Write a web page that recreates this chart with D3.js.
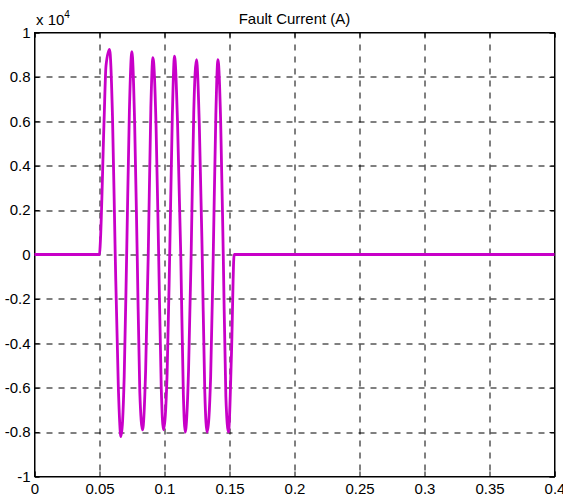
<!DOCTYPE html>
<html>
<head>
<meta charset="utf-8">
<script src="https://cdn.jsdelivr.net/npm/d3@7"></script>
<style>
  body { margin: 0; background: #fff; }
  text { font-family: Arial, "Liberation Sans", sans-serif; fill: #000; }
</style>
</head>
<body>
<div id="chart"></div>
<script>
// time (s) and current (x 10^4 A)
var times = [0, 0.0500, 0.0506, 0.0535, 0.0550, 0.0577, 0.0600, 0.0621, 0.0645, 0.0665, 0.0690,
  0.0709, 0.0730, 0.0749, 0.0770, 0.0790, 0.0810, 0.0831, 0.0855,
  0.0875, 0.0895, 0.0911, 0.0935, 0.0955, 0.0975, 0.0992, 0.1020,
  0.1040, 0.1060, 0.1077, 0.1100, 0.1125, 0.1145, 0.1159, 0.1185,
  0.1205, 0.1225, 0.1246, 0.1268, 0.1290, 0.1310, 0.1328, 0.1355,
  0.1375, 0.1395, 0.1411, 0.1432, 0.1452, 0.1472, 0.1492, 0.1515,
  0.1536, 0.1545, 0.4];
var current = [0, 0, 0.05, 0.60, 0.85, 0.924, 0.62, 0, -0.60, -0.82, -0.55,
  0, 0.65, 0.914, 0.60, 0, -0.62, -0.79, -0.52,
  0, 0.66, 0.887, 0.58, 0, -0.60, -0.79, -0.54,
  0, 0.62, 0.894, 0.60, 0, -0.63, -0.80, -0.52,
  0, 0.64, 0.878, 0.58, 0, -0.62, -0.80, -0.55,
  0, 0.63, 0.878, 0.60, 0, -0.64, -0.80, -0.45,
  0, 0, 0];
var xTicks = [0, 0.05, 0.1, 0.15, 0.2, 0.25, 0.3, 0.35, 0.4];
var yTicks = [-1, -0.8, -0.6, -0.4, -0.2, 0, 0.2, 0.4, 0.6, 0.8, 1];

var width = 563, height = 497;
var margin = { top: 32.5, right: 8.5, bottom: 20.5, left: 34.5 };
var innerW = width - margin.left - margin.right,
  innerH = height - margin.top - margin.bottom;

var svg = d3.select("#chart").append("svg")
  .attr("width", width)
  .attr("height", height);

var x = d3.scaleLinear().domain([0, 0.4]).range([0, innerW]);
var y = d3.scaleLinear().domain([-1, 1]).range([innerH, 0]);

var g = svg.append("g")
  .attr("transform", "translate(" + margin.left + "," + margin.top + ")");

// grid
g.selectAll(".vgrid").data(xTicks.slice(1, -1)).enter()
  .append("line")
  .attr("x1", function(d) { return Math.round(x(d)) + 0.5; })
  .attr("x2", function(d) { return Math.round(x(d)) + 0.5; })
  .attr("y1", 0).attr("y2", innerH)
  .attr("stroke", "#000")
  .attr("stroke-dasharray", "6,6");
g.selectAll(".hgrid").data(yTicks.slice(1, -1)).enter()
  .append("line")
  .attr("y1", function(d) { return Math.round(y(d)) + 0.5; })
  .attr("y2", function(d) { return Math.round(y(d)) + 0.5; })
  .attr("x1", 0).attr("x2", innerW)
  .attr("stroke", "#000")
  .attr("stroke-dasharray", "6,6");

// axes (ticks pointing inward, MATLAB style)
var xAxis = d3.axisBottom(x).tickValues(xTicks).tickSize(-5).tickPadding(7)
  .tickFormat(function(d) { return String(+d.toFixed(2)); });
var yAxis = d3.axisLeft(y).tickValues(yTicks).tickSize(-5).tickPadding(4)
  .tickFormat(function(d) { return String(+d.toFixed(1)); });

var gx = g.append("g").attr("transform", "translate(0," + innerH + ")").call(xAxis);
var gy = g.append("g").call(yAxis);
g.append("g").call(d3.axisTop(x).tickValues(xTicks).tickSize(-5).tickFormat(""));
g.append("g").attr("transform", "translate(" + innerW + ",0)")
  .call(d3.axisRight(y).tickValues(yTicks).tickSize(-5).tickFormat(""));

g.selectAll(".domain").attr("stroke", "#000");
g.selectAll(".tick line").attr("stroke", "#000");
[gx, gy].forEach(function(a) {
  a.selectAll("text").style("font-size", "15px")
    .style("font-family", "Arial, 'Liberation Sans', sans-serif").attr("fill", "#000");
});
g.append("rect").attr("width", innerW).attr("height", innerH)
  .attr("fill", "none").attr("stroke", "#000");

// trace
var line = d3.line()
  .x(function(d, i) { return x(times[i]); })
  .y(function(d) { return y(d); })
  .curve(d3.curveMonotoneX);
g.append("path")
  .datum(current)
  .attr("d", line)
  .attr("fill", "none")
  .attr("stroke", "#c800c8")
  .attr("stroke-width", 2.8)
  .attr("stroke-linejoin", "round");

// title and exponent label
svg.append("text")
  .attr("x", margin.left + innerW / 2).attr("y", 24)
  .attr("text-anchor", "middle")
  .style("font-size", "15px")
  .text("Fault Current (A)");
var ex = svg.append("text").attr("x", 36).attr("y", 25).style("font-size", "15px");
ex.append("tspan").text("x 10");
ex.append("tspan").attr("dy", -7).style("font-size", "10px").text("4");
</script>
</body>
</html>
